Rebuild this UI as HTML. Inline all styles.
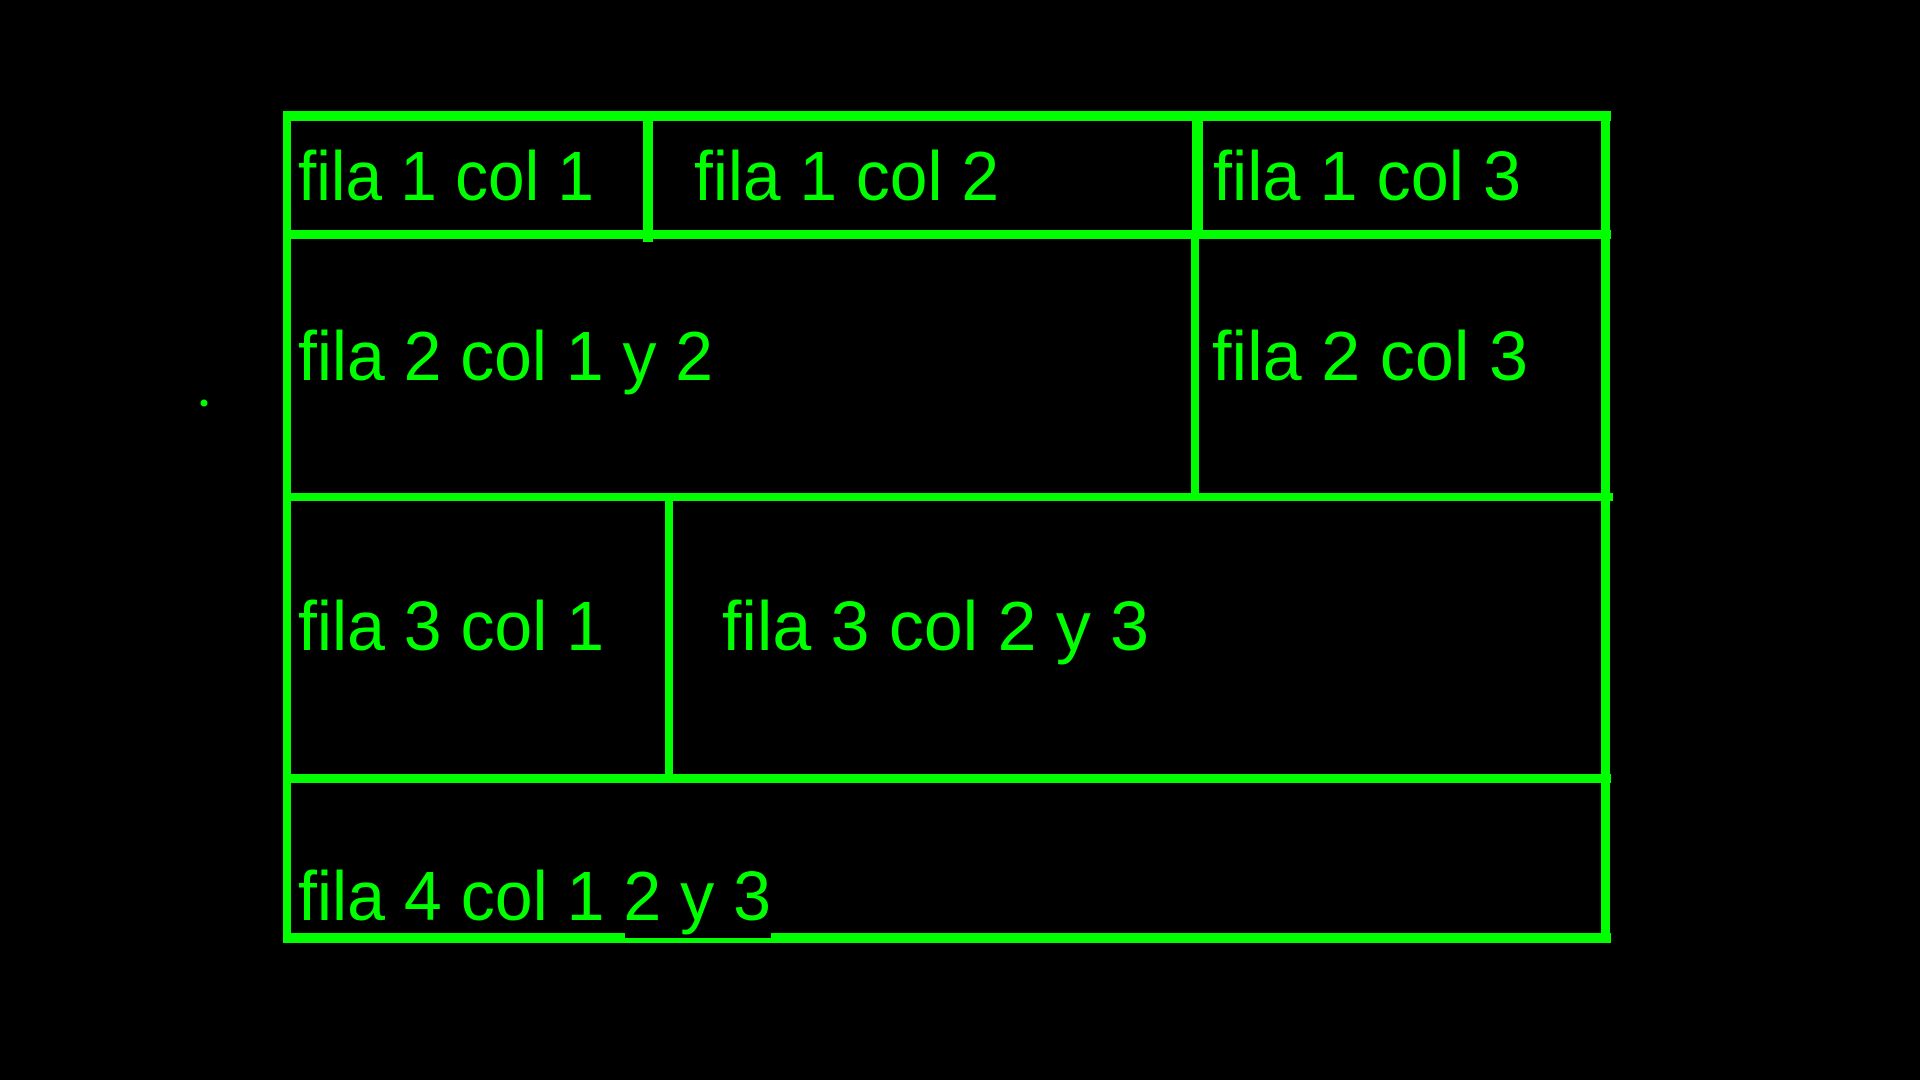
<!DOCTYPE html>
<html><head><meta charset="utf-8"><style>
html,body{margin:0;padding:0;background:#000;width:1920px;height:1080px;overflow:hidden}
</style></head><body>
<svg width="1920" height="1080" viewBox="0 0 1920 1080" xmlns="http://www.w3.org/2000/svg">
<rect width="1920" height="1080" fill="#000"/>
<g fill="#00ff00">
<!-- outer -->
<rect x="283" y="111" width="1328" height="10"/>
<rect x="283" y="933" width="1328" height="10"/>
<rect x="283" y="111" width="8" height="832"/>
<rect x="1601" y="111" width="9" height="832"/>
<!-- row lines -->
<rect x="283" y="230" width="1328" height="9"/>
<rect x="283" y="493" width="1330" height="8"/>
<rect x="283" y="774" width="1328" height="9"/>
<!-- dividers -->
<rect x="643" y="111" width="10" height="131"/>
<rect x="1192" y="111" width="11" height="125"/>
<rect x="1191" y="235" width="8" height="260"/>
<rect x="665" y="497" width="8" height="280"/>
<circle cx="204" cy="403" r="3.5"/>
</g>
<rect x="625" y="933" width="146" height="5" fill="#000"/>
<g fill="#00ff00" font-family="Liberation Sans, sans-serif" font-size="70">
<text x="298" y="200" textLength="296" lengthAdjust="spacingAndGlyphs">fila 1 col 1</text>
<text x="694" y="200" textLength="305" lengthAdjust="spacingAndGlyphs">fila 1 col 2</text>
<text x="1213" y="200" textLength="308" lengthAdjust="spacingAndGlyphs">fila 1 col 3</text>
<text x="298" y="380" textLength="415" lengthAdjust="spacingAndGlyphs">fila 2 col 1 y 2</text>
<text x="1212" y="380" textLength="316" lengthAdjust="spacingAndGlyphs">fila 2 col 3</text>
<text x="298" y="650" textLength="306" lengthAdjust="spacingAndGlyphs">fila 3 col 1</text>
<text x="722" y="650" textLength="427" lengthAdjust="spacingAndGlyphs">fila 3 col 2 y 3</text>
<text x="298" y="920" textLength="473" lengthAdjust="spacingAndGlyphs">fila 4 col 1 2 y 3</text>
</g>
</svg>
</body></html>
